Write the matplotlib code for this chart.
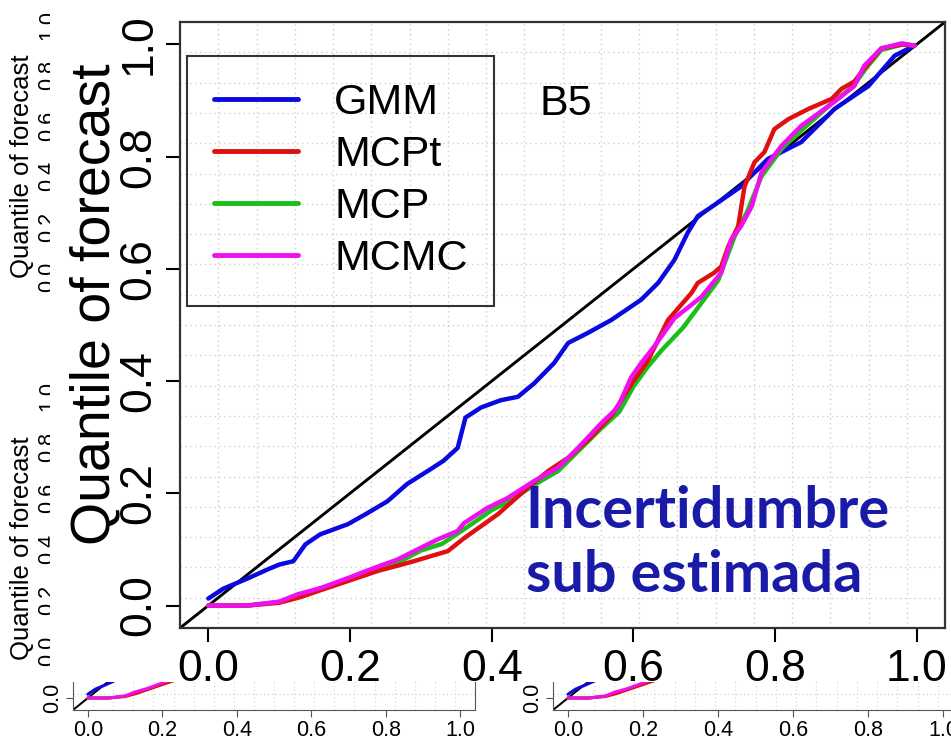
import numpy as np
import matplotlib.pyplot as plt
from matplotlib.lines import Line2D

plt.rcParams['font.family'] = ['Liberation Sans', 'DejaVu Sans']

gmm_x = [0.0, 0.021, 0.055, 0.083, 0.10, 0.12, 0.137, 0.158, 0.197, 0.225, 0.253, 0.281, 0.310,
         0.332, 0.352, 0.363, 0.385, 0.413, 0.437, 0.46, 0.488, 0.508, 0.536, 0.569, 0.611, 0.635,
         0.658, 0.677, 0.691, 0.710, 0.75, 0.79, 0.837, 0.884, 0.932, 0.969, 0.997]
gmm_y = [0.0125, 0.030, 0.048, 0.064, 0.073, 0.079, 0.109, 0.127, 0.145, 0.165, 0.186, 0.217, 0.240,
         0.258, 0.281, 0.335, 0.353, 0.366, 0.372, 0.396, 0.432, 0.468, 0.486, 0.509, 0.545, 0.575,
         0.616, 0.665, 0.694, 0.710, 0.745, 0.796, 0.826, 0.885, 0.926, 0.980, 0.998]

mcpt_x = [0.0, 0.055, 0.10, 0.13, 0.16, 0.20, 0.24, 0.27, 0.29, 0.338, 0.361, 0.409, 0.451, 0.48,
          0.51, 0.54, 0.57, 0.60, 0.62, 0.649, 0.682, 0.691, 0.714, 0.724, 0.734, 0.748, 0.757,
          0.771, 0.785, 0.799, 0.819, 0.847, 0.880, 0.894, 0.912, 0.926, 0.950, 0.98, 0.997]
mcpt_y = [0.0, 0.0, 0.005, 0.015, 0.028, 0.045, 0.062, 0.072, 0.079, 0.097, 0.12, 0.163, 0.21, 0.24,
          0.265, 0.30, 0.34, 0.40, 0.435, 0.509, 0.557, 0.575, 0.593, 0.604, 0.64, 0.676, 0.747,
          0.79, 0.808, 0.849, 0.867, 0.885, 0.903, 0.921, 0.934, 0.957, 0.993, 1.0, 0.998]

mcp_x = [0.0, 0.055, 0.10, 0.13, 0.16, 0.20, 0.24, 0.27, 0.30, 0.33, 0.36, 0.40, 0.43, 0.46, 0.494,
         0.522, 0.554, 0.58, 0.60, 0.62, 0.64, 0.67, 0.696, 0.72, 0.743, 0.76, 0.781, 0.81, 0.84,
         0.88, 0.91, 0.93, 0.95, 0.98, 0.997]
mcp_y = [0.0, 0.0, 0.006, 0.018, 0.03, 0.046, 0.063, 0.078, 0.098, 0.11, 0.135, 0.17, 0.19, 0.215,
         0.24, 0.275, 0.315, 0.345, 0.39, 0.425, 0.455, 0.495, 0.539, 0.58, 0.658, 0.70, 0.765,
         0.815, 0.85, 0.895, 0.925, 0.96, 0.99, 1.0, 0.998]

mcmc_x = [0.0, 0.055, 0.10, 0.126, 0.158, 0.197, 0.234, 0.267, 0.30, 0.324, 0.352, 0.361, 0.394,
          0.423, 0.46, 0.494, 0.522, 0.554, 0.578, 0.597, 0.611, 0.629, 0.658, 0.696, 0.724, 0.738,
          0.752, 0.767, 0.781, 0.809, 0.837, 0.884, 0.912, 0.926, 0.950, 0.979, 0.997]
mcmc_y = [0.0, 0.0, 0.007, 0.020, 0.031, 0.049, 0.067, 0.082, 0.103, 0.118, 0.133, 0.147, 0.174,
          0.192, 0.222, 0.246, 0.281, 0.324, 0.353, 0.407, 0.432, 0.461, 0.512, 0.55, 0.593, 0.652,
          0.676, 0.711, 0.772, 0.819, 0.855, 0.898, 0.926, 0.962, 0.993, 1.002, 0.998]

series = [("GMM", gmm_x, gmm_y, "#0a0ae0"),
          ("MCPt", mcpt_x, mcpt_y, "#e01010"),
          ("MCP", mcp_x, mcp_y, "#18c018"),
          ("MCMC", mcmc_x, mcmc_y, "#ee10ee")]
draw_order = ["GMM", "MCP", "MCPt", "MCMC"]

ticks = [0.0, 0.2, 0.4, 0.6, 0.8, 1.0]
tick_labels = ["0.0", "0.2", "0.4", "0.6", "0.8", "1.0"]
ylab = "Quantile of forecast"
panel_name = "B5"
note = ["Incertidumbre", "sub estimada"]

W, H = 951, 739
fig = plt.figure(figsize=(W / 100, H / 100), dpi=100)


def box(left, top, right, bottom):
    # caja en pixeles -> coordenadas de figura
    return [left / W, (H - bottom) / H, (right - left) / W, (bottom - top) / H]


lims = (-0.04, 1.04)
grid_pos = np.linspace(lims[0], lims[1], 21)[1:-1]   # como grid(20, 20) de R


def add_grid(ax, lw=1.0):
    for g in grid_pos:
        ax.axvline(g, color="#cfcfcf", lw=lw, ls=(0, (1, 2.5)), zorder=0)
        ax.axhline(g, color="#cfcfcf", lw=lw, ls=(0, (1, 2.5)), zorder=0)


def draw_curves(ax, lw):
    ax.plot(lims, lims, color="black", lw=lw * 0.65, zorder=2)
    for name in draw_order:
        for lab, xs, ys, col in series:
            if lab == name:
                ax.plot(xs, ys, color=col, lw=lw, zorder=3, solid_capstyle="round")


# --- ejes "fantasma" de la izquierda (solo se ven etiquetas) ---
for top, bottom, lab_y in [(15, 287, 166), (386, 661, 548)]:
    g = fig.add_axes(box(64, top, 360, bottom), zorder=1)
    g.set_xlim(lims)
    g.set_ylim(lims)
    g.set_xticks([])
    g.set_yticks(ticks)
    g.set_yticklabels(tick_labels, fontsize=15.5, rotation=90, va="center")
    g.tick_params(axis="y", length=0, pad=4)
    g.set_ylabel(ylab, fontsize=18.5)
    g.yaxis.set_label_coords(34 / W, (H - lab_y) / H, transform=fig.transFigure)

# --- paneles pequenos de abajo ---
for left, right in [(73, 475), (553, 958)]:
    s = fig.add_axes(box(left, 386, right, 710), zorder=1)
    s.set_xlim(lims)
    s.set_ylim(lims)
    add_grid(s, lw=0.8)
    draw_curves(s, lw=2.2)
    s.set_xticks(ticks)
    s.set_xticklabels(tick_labels, fontsize=15.5)
    s.set_yticks(ticks[:1])
    s.set_yticklabels(tick_labels[:1], fontsize=15.5, rotation=90, va="center")
    s.tick_params(length=5, pad=2, color="#555555")
    for sp in s.spines.values():
        sp.set_color("#555555")

# --- fondo blanco de la figura principal ---
cover = fig.add_axes(box(50, 0, 951, 682), zorder=2)
cover.set_facecolor("white")
cover.set_xticks([])
cover.set_yticks([])
for sp in cover.spines.values():
    sp.set_visible(False)

# --- grafico principal ---
ax = fig.add_axes(box(180, 22, 945, 628), zorder=3)
ax.set_facecolor("white")
ax.set_xlim(lims)
ax.set_ylim(lims)
add_grid(ax)
draw_curves(ax, lw=3.2)

ax.set_xticks(ticks)
ax.set_xticklabels(tick_labels, fontsize=32)
ax.set_yticks(ticks)
ax.set_yticklabels(tick_labels, fontsize=32, rotation=90, va="center")
ax.tick_params(length=10, width=1.5, pad=5)
for sp in ax.spines.values():
    sp.set_color("#333333")
    sp.set_linewidth(1.6)

ax.set_ylabel(ylab, fontsize=40)
ax.yaxis.set_label_coords(121 / W, (H - 304) / H, transform=fig.transFigure)

handles = [Line2D([], [], color=col, lw=3.5, solid_capstyle="round") for _, _, _, col in series]
leg = ax.legend(handles, [s[0] for s in series], loc="upper left",
                bbox_to_anchor=((187 - 180) / 765, (628 - 56) / 606), borderaxespad=0,
                fontsize=31, handlelength=1.95, handletextpad=0.85, labelspacing=0.28,
                borderpad=0.62, fancybox=False, edgecolor="black")
leg.get_frame().set_facecolor("none")
leg.get_frame().set_linewidth(1.5)

ax.text(0.467, 0.893, panel_name, fontsize=31, va="center", ha="left")
ax.text(0.448, 0.138, note[0], fontsize=41.5, fontweight="bold", color="#1a1aa8",
        family=["Lato", "DejaVu Sans"], va="baseline", ha="left")
ax.text(0.448, 0.025, note[1], fontsize=41.5, fontweight="bold", color="#1a1aa8",
        family=["Lato", "DejaVu Sans"], va="baseline", ha="left")

fig.savefig("out.png", dpi=100)
